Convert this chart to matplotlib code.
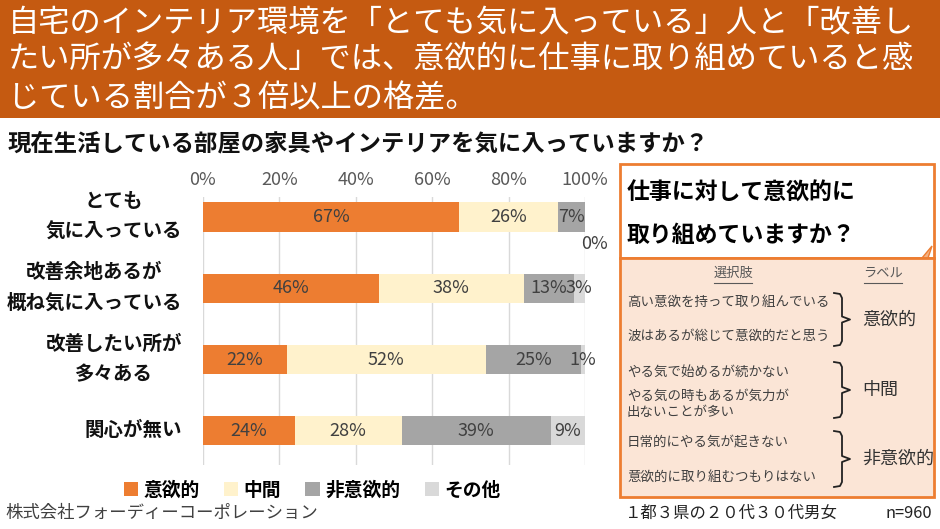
import matplotlib.pyplot as plt
from matplotlib.patches import Rectangle, Polygon
import numpy as np

plt.rcParams['font.family'] = ['Noto Sans CJK JP', 'DejaVu Sans']

# data
#---------------------------
categories = ['とても\n気に入っている', '改善余地あるが\n概ね気に入っている', '改善したい所が\n多々ある', '関心が無い']
series = ['意欲的', '中間', '非意欲的', 'その他']
values = {
    '意欲的':   [67, 46, 22, 24],
    '中間':     [26, 38, 52, 28],
    '非意欲的': [7, 13, 25, 39],
    'その他':   [0, 3, 1, 9],
}
colors = {'意欲的': '#ED7D31', '中間': '#FFF2CC', '非意欲的': '#A5A5A5', 'その他': '#D9D9D9'}
xticks = [0, 20, 40, 60, 80, 100]

title_lines = ['自宅のインテリア環境を「とても気に入っている」人と「改善し',
               'たい所が多々ある人」では、意欲的に仕事に取り組めていると感',
               'じている割合が３倍以上の格差。']
subtitle = '現在生活している部屋の家具やインテリアを気に入っていますか？'
box_title = ['仕事に対して意欲的に', '取り組めていますか？']
choices = [('高い意欲を持って取り組んでいる', 302), ('波はあるが総じて意欲的だと思う', 336),
           ('やる気で始めるが続かない', 372), ('やる気の時もあるが気力が\n出ないことが多い', 404),
           ('日常的にやる気が起きない', 442), ('意欲的に取り組むつもりはない', 477)]
groups = [('意欲的', 293, 346), ('中間', 362, 418), ('非意欲的', 431, 487)]

W, H = 940, 529
fig = plt.figure(figsize=(W / 100, H / 100), dpi=100)

# overlay in pixel coordinates
#---------------------------
ov = fig.add_axes([0, 0, 1, 1])
ov.set_xlim(0, W)
ov.set_ylim(H, 0)
ov.axis('off')

ov.add_patch(Rectangle((0, 0), W, 118, facecolor='#C55A11', edgecolor='none'))
for i, line in enumerate(title_lines):
    ov.text(8, 22 + i * 38, line, color='white', fontsize=22.5, va='center', ha='left')

ov.text(8, 143, subtitle, fontsize=16.8, fontweight='bold', va='center', ha='left', color='#111111')

# right side boxes
ov.add_patch(Rectangle((620, 164), 314, 94, facecolor='white', edgecolor='#ED7D31', lw=2))
ov.add_patch(Polygon([[922, 258], [932, 246], [928, 258]], closed=True,
                     facecolor='#F4B183', edgecolor='#ED7D31', lw=1))
ov.add_patch(Rectangle((620, 258), 314, 239, facecolor='#FBE5D6', edgecolor='#ED7D31', lw=2))
ov.text(627, 193, box_title[0], fontsize=16.5, fontweight='bold', va='center', ha='left')
ov.text(627, 235, box_title[1], fontsize=16.5, fontweight='bold', va='center', ha='left')

ov.text(733, 273, '選択肢', fontsize=9.5, color='#595959', ha='center', va='center')
ov.plot([714, 752], [283, 283], color='#595959', lw=0.8)
ov.text(883, 273, 'ラベル', fontsize=9.5, color='#595959', ha='center', va='center')
ov.plot([864, 902], [283, 283], color='#595959', lw=0.8)

for txt, y in choices:
    ov.text(627, y, txt, fontsize=9.7, color='#404040', ha='left', va='center', linespacing=1.15)

for label, top, bot in groups:
    mid = (top + bot) / 2
    bx = [834, 840, 842, 842, 850, 842, 842, 840, 834]
    by = [top, top + 1, top + 5, mid - 3, mid, mid + 3, bot - 5, bot - 1, bot]
    ov.plot(bx, by, color='#222222', lw=1.3)
    ov.text(862, mid, label, fontsize=13, color='#333333', ha='left', va='center')

ov.text(5, 513, '株式会社フォーディーコーポレーション', fontsize=12.5, color='#404040', ha='left', va='center')
ov.text(625, 513, '１都３県の２０代３０代男女', fontsize=11.8, color='#222222', ha='left', va='center')
ov.text(932, 513, 'n=960', fontsize=11.8, color='#222222', ha='right', va='center')

# bar chart
#---------------------------
ax = fig.add_axes([203 / W, 1 - 465 / H, (585 - 203) / W, (465 - 197) / H])
ax.patch.set_alpha(0)
y = np.arange(len(categories))
left = np.zeros(len(categories))
for s in series:
    v = np.array(values[s], dtype=float)
    ax.barh(y, v, left=left, height=0.41, color=colors[s], label=s, zorder=2)
    for yi, (l, vi) in enumerate(zip(left, v)):
        if vi > 0:
            ax.text(l + vi / 2, yi, f'{int(vi)}%', ha='center', va='center', fontsize=13, color='#404040', zorder=3)
        else:
            # zero segment: label sits outside, below the bar end
            ax.annotate(f'{int(vi)}%', (l, yi), xytext=(10, -27), textcoords='offset pixels',
                        ha='center', va='center', fontsize=13, color='#404040')
    left += v

ax.set_xlim(0, 100)
ax.set_ylim(3.48, -0.28)
ax.set_xticks(xticks)
ax.set_xticklabels([f'{t}%' for t in xticks])
ax.xaxis.tick_top()
ax.tick_params(axis='x', length=0, pad=6, labelsize=13, labelcolor='#595959')
ax.set_yticks([])
ax.grid(axis='x', color='#D9D9D9', lw=1, zorder=0)
for sp in ax.spines.values():
    sp.set_visible(False)

for yi, c in enumerate(categories):
    ax.annotate(c, (0, yi), xytext=(-21, 0), textcoords='offset pixels', ha='right', va='center',
                multialignment='center', fontsize=14, fontweight='bold', linespacing=1.75, color='#111111')

handles, labels = ax.get_legend_handles_labels()
fig.legend(handles, labels, loc='center', bbox_to_anchor=(312 / W, 1 - 490 / H), ncol=4, frameon=False,
           handlelength=0.75, handleheight=0.75, handletextpad=0.3, columnspacing=1.3,
           prop={'size': 13.5, 'weight': 'bold'})

fig.savefig('out.png', dpi=100)
